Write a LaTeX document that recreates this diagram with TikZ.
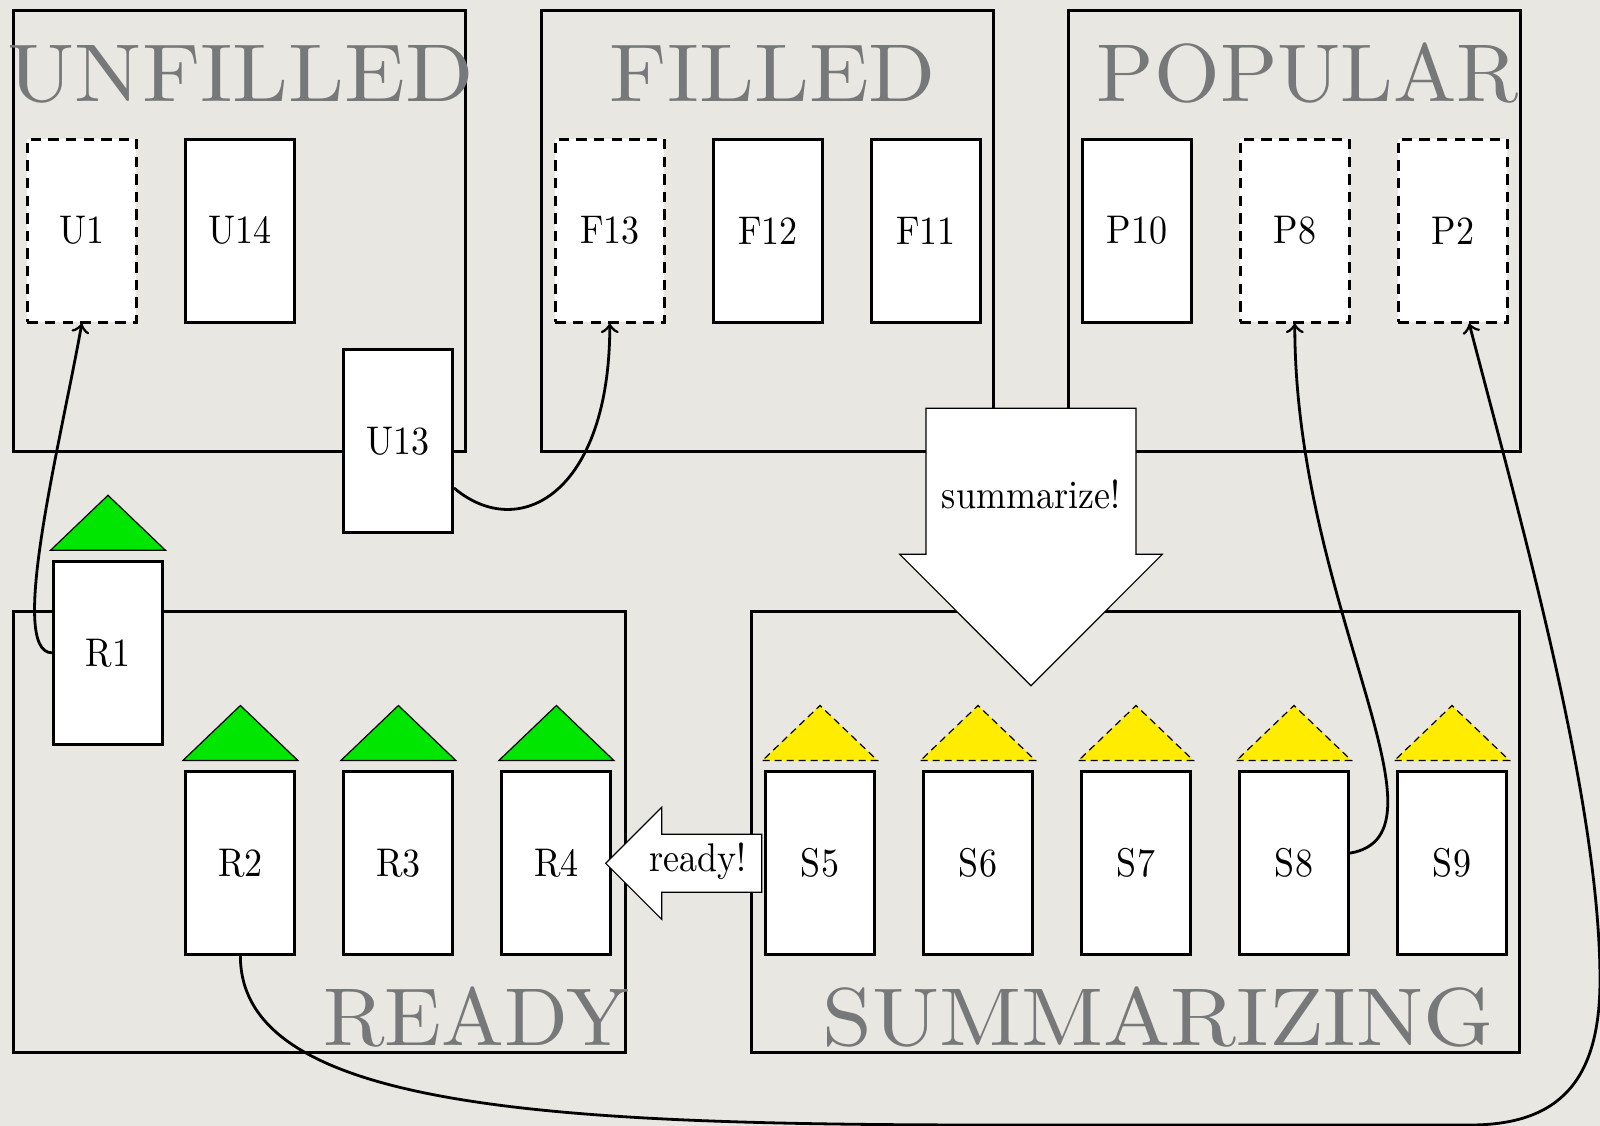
\documentclass[tikz,border=0pt]{standalone}
\usepackage{graphicx}
\usetikzlibrary{calc}

\definecolor{paper}{RGB}{232,231,225}
\definecolor{titlegray}{RGB}{119,120,122}
\definecolor{hatgreen}{RGB}{0,230,0}
\definecolor{hatyellow}{RGB}{255,236,0}

% narrow body text and large state titles
\newcommand\sq[1]{\scalebox{0.9}[1]{#1}}
\newcommand\bigtitle[2]{\scalebox{#1}[2.05]{#2}}

\tikzset{
  card/.style={draw, line width=0.75pt, fill=white, minimum width=27.25pt,
               minimum height=45.75pt, inner sep=0pt},
  ghost/.style={card, dash pattern=on 2.6pt off 1.8pt},
  frame/.style={draw, line width=0.75pt, inner sep=0pt},
  title/.style={text=titlegray, anchor=base, inner sep=0pt},
  greenhat/.style={draw, line width=0.3pt, fill=hatgreen},
  yellowhat/.style={draw, line width=0.3pt, fill=hatyellow, dash pattern=on 1.8pt off 1.2pt},
  bigarrow/.style={draw, line width=0.3pt, fill=white, line join=miter},
  arrowtext/.style={inner sep=0pt},
  conn/.style={->, line width=0.7pt},
}

\begin{document}
\begin{tikzpicture}[x=0.25pt, y=-0.25pt]
\fill[paper] (0,0) rectangle (1600,1126);

% state frames
\node[frame, minimum width=113pt, minimum height=110.25pt] (unfilled) at (239.5,231) {};
\node[frame, minimum width=113pt, minimum height=110.25pt] (filled) at (767.5,231) {};
\node[frame, minimum width=113pt, minimum height=110.25pt] (popular) at (1294.5,231) {};
\node[frame, minimum width=152.9pt, minimum height=110.3pt] (ready) at (319.25,832.2) {};
\node[frame, minimum width=192.1pt, minimum height=110.3pt] (summarizing) at (1135.75,832.2) {};

% state titles
\node[title] (tunfilled) at (241,101) {\bigtitle{2.24}{UNFILLED}};
\node[title] (tfilled) at (773,101) {\bigtitle{2.2}{FILLED}};
\node[title] (tpopular) at (1308,101) {\bigtitle{2.11}{POPULAR}};
\node[title] (tready) at (476,1045) {\bigtitle{2.09}{READY}};
\node[title] (tsummarizing) at (1158,1045) {\bigtitle{2.24}{SUMMARIZING}};

% cards in the upper row
\foreach \lbl/\x/\kind in {U1/81.8/ghost, U14/239.8/card, F13/609.8/ghost,
    F12/767.8/card, F11/925.8/card, P10/1136.8/card, P8/1294.8/ghost, P2/1452.8/ghost}
  \node[\kind] (\lbl) at (\x,230.5) {\sq{\lbl}};
\node[card] (U13) at (398,441) {\sq{U13}};

% cards in the lower row
\node[card] (R1) at (108,652.8) {\sq{R1}};
\foreach \lbl/\x in {R2/240.4, R3/398.4, R4/556.4, S5/820, S6/978, S7/1136, S8/1294, S9/1452}
  \node[card] (\lbl) at (\x,863) {\sq{\lbl}};

% hats above the cards
\foreach \n in {R1,R2,R3,R4}
  \draw[greenhat] ([shift={(-1.5,-9.5)}]\n.north west) -- ([shift={(1.5,-9.5)}]\n.north east)
    -- ([shift={(0,-64.5)}]\n.north) -- cycle;
\foreach \n in {S5,S6,S7,S8,S9}
  \draw[yellowhat] ([shift={(-1.5,-9.5)}]\n.north west) -- ([shift={(1.5,-9.5)}]\n.north east)
    -- ([shift={(0,-64.5)}]\n.north) -- cycle;

% block arrows
\draw[bigarrow] (926,408.3) -- (1136,408.3) -- (1136,554.3) -- (1162.3,554.3)
  -- (1031,685.7) -- (899.7,554.3) -- (926,554.3) -- cycle;
\node[arrowtext] (summarize) at (1031,494) {\sq{summarize!}};
\draw[bigarrow] (761.7,834.3) -- (661.7,834.3) -- (661.7,807.3) -- (605.7,863.3)
  -- (661.7,919.3) -- (661.7,892.3) -- (761.7,892.3) -- cycle;
\node[arrowtext] (readyarrow) at (698,861.7) {\sq{ready!}};

% transitions
\draw[conn] (R1.west) .. controls +(-45,0) and +(-21,118) .. (U1.south);
\draw[conn] (U13.-40) .. controls +(65,55) and +(0,170) .. (F13.south);
\draw[conn] (S8.10) .. controls +(110,-19) and +(0,280) .. (P8.south);
\draw[conn] (R2.south) .. controls +(0,155) and (560,1125) .. (1000,1125) -- (1470,1125)
  .. controls (1560,1125) and (1600,1080) .. (1600,980)
  .. controls (1600,800) and +(51,196) .. (P2.-80);

\pgfresetboundingbox
\useasboundingbox (0,0) rectangle (1600,1126);
\end{tikzpicture}
\end{document}
